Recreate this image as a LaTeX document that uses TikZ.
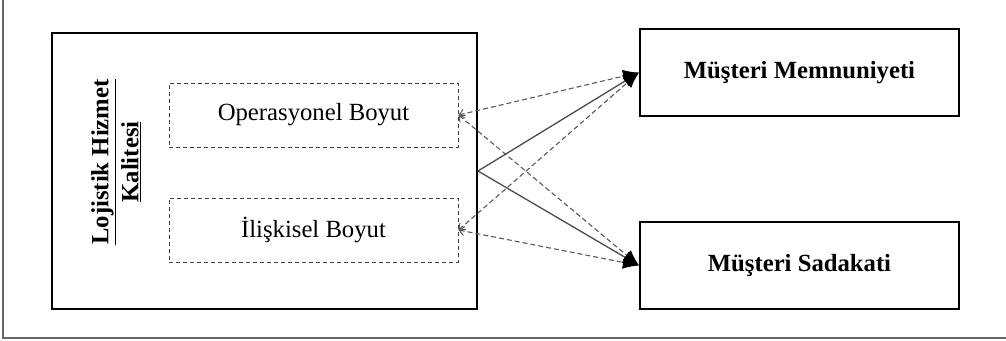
\documentclass[tikz,border=0pt]{standalone}
\usepackage{fontspec}
\setmainfont{Liberation Serif}
\usetikzlibrary{arrows.meta}
\begin{document}
\begin{tikzpicture}[x=1pt,y=-1pt,
 mainbox/.style={draw=black, line width=2pt, inner sep=0pt},
 dimbox/.style={draw=black!75, dash pattern=on 4pt off 3pt, line width=1pt, inner sep=0pt},
 solidarrow/.style={draw=black!70, line width=1.3pt, -{Latex[length=16pt,width=13pt,black]}},
 dasharrow/.style={draw=black!65, line width=1.1pt, dash pattern=on 5pt off 3pt, {Straight Barb[length=5pt,width=9pt,line width=1pt]}-{Latex[length=16pt,width=13pt,black]}},
 txt/.style={font=\fontsize{24.7}{30}\selectfont},
 btxt/.style={font=\fontsize{24.7}{30}\selectfont\bfseries},
 frame/.style={draw=black!60, line width=1.5pt}]
\useasboundingbox (0,0) rectangle (1006,340);
\draw[frame] (3,0) -- (3,338) -- (1006,338);
\node[mainbox, minimum width=425pt, minimum height=276pt] (lhk) at (264.5,171) {};
\node[dimbox, txt, minimum width=289pt, minimum height=64pt] (op) at (313.5,115) {Operasyonel Boyut};
\node[dimbox, txt, minimum width=289pt, minimum height=64pt] (il) at (313.5,230) {İlişkisel Boyut};
\node[btxt, rotate=90, align=center, inner sep=0pt] (title) at (116,162) {\underline{Lojistik Hizmet}\\\underline{Kalitesi}};
\node[mainbox, btxt, minimum width=319pt, minimum height=87pt] (mem) at (799.5,72.5) {Müşteri Memnuniyeti};
\node[mainbox, btxt, minimum width=319pt, minimum height=87pt] (sad) at (799.5,265.5) {Müşteri Sadakati};
\draw[dasharrow] (op.east) -- (mem.west);
\draw[dasharrow] (op.east) -- (sad.west);
\draw[dasharrow] (il.east) -- (mem.west);
\draw[dasharrow] (il.east) -- (sad.west);
\draw[solidarrow] (lhk.east) -- (mem.west);
\draw[solidarrow] (lhk.east) -- (sad.west);
\end{tikzpicture}
\end{document}
